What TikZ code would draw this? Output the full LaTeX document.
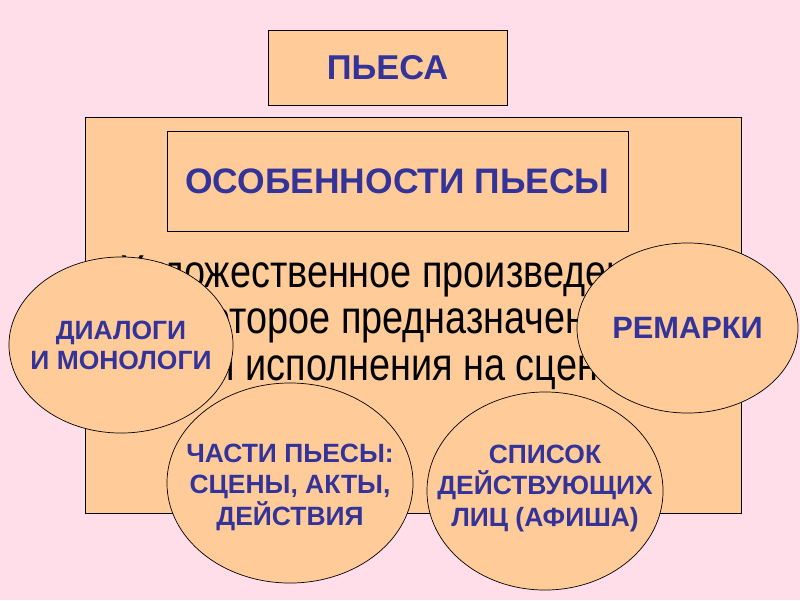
\documentclass[tikz,border=0pt]{standalone}
\usepackage{fontspec}
\setmainfont{Liberation Sans}
\newfontfamily\schmal[FakeStretch=0.82]{Liberation Sans}
\usetikzlibrary{shapes.geometric}
\definecolor{rosa}{RGB}{255,221,233}
\definecolor{pfirsich}{RGB}{255,204,153}
\definecolor{tinte}{RGB}{51,51,153}
\tikzset{
  kasten/.style={draw=black,line width=0.6pt,fill=pfirsich,rectangle,inner sep=0pt},
  blase/.style={draw=black,line width=0.5pt,fill=pfirsich,ellipse,inner sep=0pt},
  aufschrift/.style={text=tinte,align=center,inner sep=0pt},
  zeile/.style={anchor=base,inner sep=0pt,font=\schmal\fontsize{32.8pt}{34pt}\selectfont}
}
\begin{document}
\begin{tikzpicture}[x=0.025cm,y=-0.025cm]
    \fill[rosa] (0,0) rectangle (800,600);
    \useasboundingbox (0,0) rectangle (800,600);
    \node[kasten,minimum width=5.975cm,minimum height=1.875cm,text=tinte,
      font=\bfseries\fontsize{24.5pt}{28pt}\selectfont] (piesa) at (387.5,67.5) {ПЬЕСА};
    \node[kasten,minimum width=16.375cm,minimum height=9.9cm] (rahmen) at (413.5,315) {};
    \node[kasten,minimum width=11.525cm,minimum height=2.5cm,text=tinte,
      font=\bfseries\fontsize{25.2pt}{28pt}\selectfont] (osob) at (397.5,181) {ОСОБЕННОСТИ ПЬЕСЫ};
    \node[zeile] (zeileA) at (400,287) {Художественное произведение,};
    \node[zeile] (zeileB) at (400,333.5) {которое предназначено};
    \node[zeile] (zeileC) at (400,380) {для исполнения на сцене.};
    \node[blase,minimum width=5.6cm,minimum height=4.4cm,
      label={[aufschrift,font=\bfseries\fontsize{18.8pt}{21.3pt}\selectfont]center:ДИАЛОГИ\\И МОНОЛОГИ}]
      (dialog) at (121,345) {};
    \node[blase,minimum width=5.525cm,minimum height=4.25cm,
      label={[aufschrift,font=\bfseries\fontsize{21.9pt}{24pt}\selectfont]center:РЕМАРКИ}]
      (remark) at (687.5,328) {};
    \node[blase,minimum width=6.15cm,minimum height=5cm,
      label={[aufschrift,font=\bfseries\fontsize{18.8pt}{22.4pt}\selectfont,yshift=-3pt]center:ЧАСТИ ПЬЕСЫ:\\СЦЕНЫ, АКТЫ,\\ДЕЙСТВИЯ}]
      (teile) at (290,483) {};
    \node[blase,minimum width=5.9cm,minimum height=4.95cm,
      label={[aufschrift,font=\bfseries\fontsize{18.8pt}{22.4pt}\selectfont,yshift=2pt]center:СПИСОК\\ДЕЙСТВУЮЩИХ\\ЛИЦ (АФИША)}]
      (liste) at (545,491) {};
\end{tikzpicture}
\end{document}
